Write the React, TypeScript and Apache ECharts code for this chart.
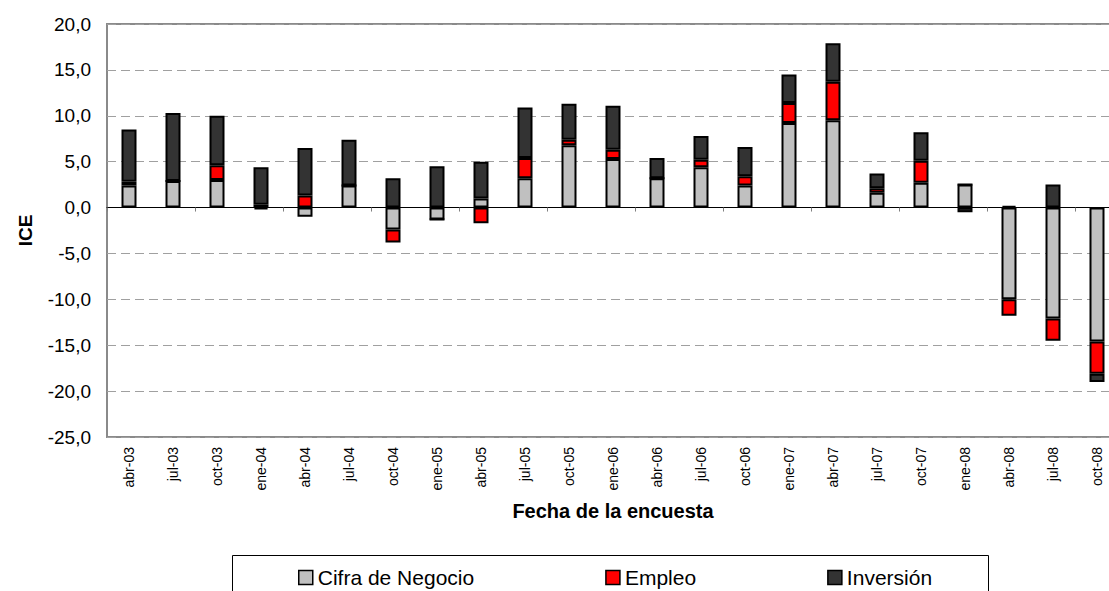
import React, { useEffect, useRef } from "react";
import * as echarts from "echarts";

const categories = [
  "abr-03", "jul-03", "oct-03", "ene-04", "abr-04", "jul-04", "oct-04", "ene-05",
  "abr-05", "jul-05", "oct-05", "ene-06", "abr-06", "jul-06", "oct-06", "ene-07",
  "abr-07", "jul-07", "oct-07", "ene-08", "abr-08", "jul-08", "oct-08",
];
const cifraNegocio = [2.4, 2.9, 3.0, -0.2, -1.0, 2.4, -2.4, -1.3, 1.0, 3.2, 6.8, 5.3, 3.2, 4.4, 2.4, 9.2, 9.5, 1.6, 2.7, 2.5, -10.0, -12.1, -14.6];
const empleo = [0.4, 0, 1.6, 0.3, 1.3, 0, -1.4, 0, -1.7, 2.2, 0.6, 1.0, 0, 0.8, 1.0, 2.2, 4.2, 0.5, 2.4, 0, -1.8, -2.4, -3.5];
const inversion = [5.7, 7.4, 5.4, 4.1, 5.2, 5.0, 3.2, 4.5, 4.0, 5.5, 3.9, 4.8, 2.2, 2.6, 3.2, 3.1, 4.2, 1.6, 3.1, -0.5, 0.2, 2.5, -0.9];
const seriesNames = ["Cifra de Negocio", "Empleo", "Inversión"];
const seriesColors = ["#C0C0C0", "#FF0000", "#333333"];

const FONT = "'Liberation Sans', Arial, sans-serif";

export default function App() {
  const ref = useRef<HTMLDivElement>(null);
  useEffect(() => {
    if (!ref.current) return;
    const chart = echarts.init(ref.current, undefined, { renderer: "svg" });
    const values = [cifraNegocio, empleo, inversion];
    chart.setOption({
      animation: false,
      backgroundColor: "#fff",
      textStyle: { fontFamily: FONT, color: "#000" },
      grid: {
        left: 107,
        top: 24,
        width: 1012,
        height: 413,
        outerBoundsMode: "none",
        containLabel: false,
        show: true,
        borderColor: "#8a8a8a",
        borderWidth: 2,
        backgroundColor: "transparent",
      },
      legend: {
        data: seriesNames,
        left: 298,
        top: 567,
        padding: 0,
        itemWidth: 14,
        itemHeight: 14,
        itemGap: 131,
        icon: "rect",
        itemStyle: { borderColor: "#000", borderWidth: 1.5 },
        textStyle: { fontFamily: FONT, fontSize: 21, color: "#000" },
      },
      graphic: [
        {
          type: "rect",
          shape: { x: 232.5, y: 555.5, width: 756, height: 60 },
          style: { fill: "none", stroke: "#000", lineWidth: 1 },
          z: 0,
        },
      ],
      xAxis: [
        {
          type: "category",
          data: categories,
          position: "bottom",
          axisLine: { show: false, onZero: false },
          axisTick: { show: false },
          axisLabel: {
            rotate: 90,
            interval: 0,
            fontSize: 14,
            margin: 10,
            color: "#000",
            fontFamily: FONT,
          },
          splitLine: { show: false },
          name: "Fecha de la encuesta",
          nameLocation: "middle",
          nameGap: 64,
          nameTextStyle: { fontFamily: FONT, fontSize: 20, fontWeight: "bold", color: "#000" },
        },
        {
          type: "category",
          data: categories,
          position: "bottom",
          axisLine: { show: true, onZero: true, lineStyle: { color: "#000", width: 1 } },
          axisTick: { show: true, length: 4, lineStyle: { color: "#808080", width: 1 } },
          axisLabel: { show: false },
          splitLine: { show: false },
        },
      ],
      yAxis: {
        type: "value",
        min: -25,
        max: 20,
        interval: 5,
        axisLine: { show: false },
        axisTick: { show: false },
        axisLabel: {
          fontSize: 19,
          margin: 16,
          color: "#000",
          fontFamily: FONT,
          formatter: (v: number) => v.toFixed(1).replace(".", ","),
        },
        splitLine: { show: true, lineStyle: { color: "#a0a0a0", type: [9, 5], width: 1 } },
        name: "ICE",
        nameLocation: "middle",
        nameGap: 72,
        nameTextStyle: { fontFamily: FONT, fontSize: 19, fontWeight: "bold", color: "#000" },
      },
      series: seriesNames.map((name, i) => ({
        name,
        type: "bar",
        stack: "ice",
        xAxisIndex: 0,
        barWidth: 15,
        data: values[i],
        itemStyle: { color: seriesColors[i], borderColor: "#000", borderWidth: 2 },
      })),
    });
    return () => chart.dispose();
  }, []);
  return (
    <div
      ref={ref}
      style={{ position: "fixed", left: 0, top: 0, width: 1109, height: 591, background: "#fff" }}
    />
  );
}
